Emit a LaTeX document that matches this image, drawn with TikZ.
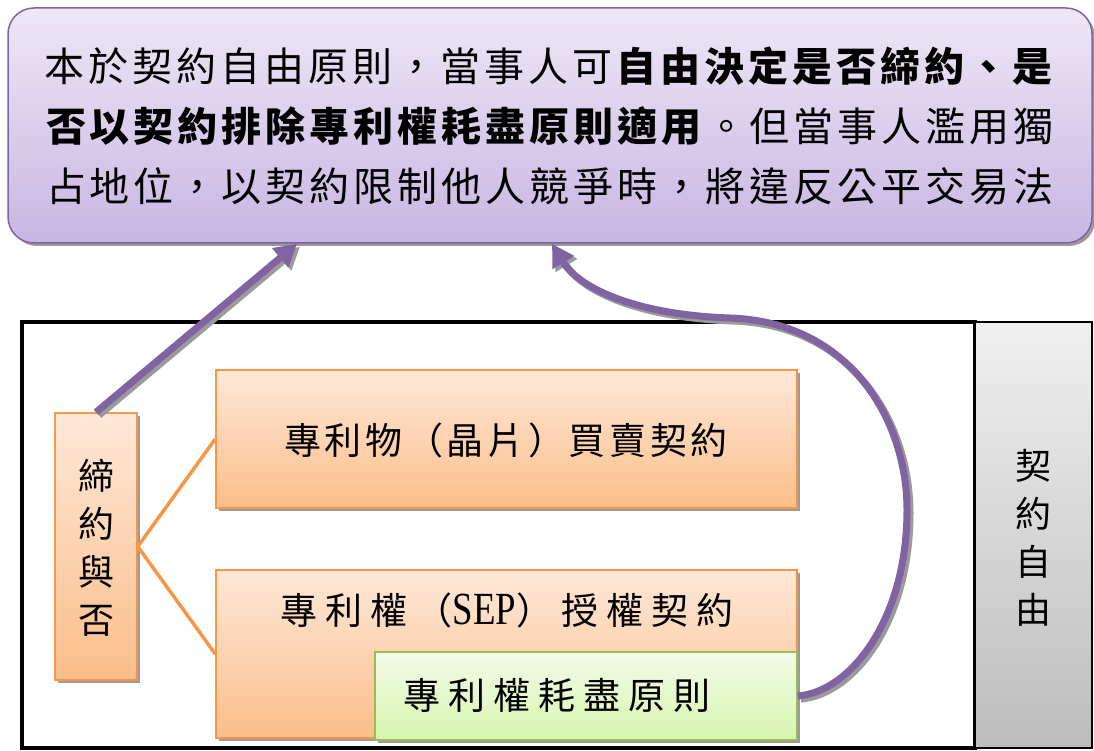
\documentclass[tikz,border=0pt]{standalone}
\usepackage{fontspec}
\setmainfont{Liberation Serif}
\newfontfamily\cjk{Noto Sans CJK TC}
\newfontfamily\cjkwide[LetterSpace=10]{Noto Sans CJK TC}
\newfontfamily\cjksale[LetterSpace=10]{Noto Sans CJK TC}
\newfontfamily\cjklic[LetterSpace=22]{Noto Sans CJK TC}
\newfontfamily\latbox[FakeStretch=0.8]{Liberation Serif}
\usetikzlibrary{arrows.meta, shadows}
\definecolor{purp}{HTML}{8064A2}
\definecolor{purptop}{HTML}{EEE7F6}
\definecolor{purpbot}{HTML}{C8B6E2}
\definecolor{orng}{HTML}{F79646}
\definecolor{orngtop}{HTML}{FEE8D8}
\definecolor{orngbot}{HTML}{FBBE8A}
\definecolor{grn}{HTML}{9BBB59}
\definecolor{grntop}{HTML}{F3FBE8}
\definecolor{grnbot}{HTML}{D6F5AE}
\definecolor{shadowgray}{HTML}{9A9A9A}
\tikzset{
  boxshadow/.style={drop shadow={shadow xshift=3pt, shadow yshift=-3pt, fill=shadowgray, opacity=1}},
  rulebox/.style={draw=purp, line width=1.5pt, rounded corners=26pt, top color=purptop, bottom color=purpbot, boxshadow},
  orangebox/.style={draw=orng, line width=1.5pt, top color=orngtop, bottom color=orngbot, boxshadow},
  greenbox/.style={draw=grn, line width=1.5pt, top color=grntop, bottom color=grnbot, boxshadow},
  greybox/.style={draw=black, line width=2.5pt, top color=black!6, bottom color=black!26},
  branch/.style={orng, line width=3.5pt},
  flow/.style={purp, line width=7pt, -{Triangle[length=22pt, width=24pt]}},
  flowshadow/.style={shadowgray, line width=7pt, -{Triangle[length=22pt, width=24pt]}, transform canvas={xshift=3pt, yshift=-3pt}},
  boxtext/.style={font=#1\fontsize{37}{40}\selectfont, inner sep=0pt},
  vtext/.style={font=\cjk\fontsize{36}{48}\selectfont, align=center, inner sep=0pt}
}
\begin{document}
\begin{tikzpicture}[x=1pt, y=-1pt]
\useasboundingbox (0,0) rectangle (1094,751);
% Top statement
\node[rulebox, minimum width=1084pt, minimum height=235pt, align=center,
      font=\cjkwide\fontsize{40}{60}\selectfont] (rule) at (550,125.5)
  {本於契約自由原則，當事人可\textbf{自由決定是否締約、是}\\
   \textbf{否以契約排除專利權耗盡原則適用}。但當事人濫用獨\\
   占地位，以契約限制他人競爭時，將違反公平交易法};
% Frame and side label
\draw[line width=4pt] (22,322) rectangle (975,748);
\node[greybox, minimum width=117pt, minimum height=426pt] (free) at (1033.5,535) {};
\node[vtext] (freetext) at (1033.5,538) {契\\約\\自\\由};
% Contract boxes
\node[orangebox, minimum width=82pt, minimum height=267pt] (sign) at (96,546.5) {};
\node[vtext] (signtext) at (96,548) {締\\約\\與\\否};
\node[orangebox, minimum width=581pt, minimum height=138pt] (sale) at (506.5,439) {};
\node[boxtext=\cjksale] (saletext) at (506,440) {專利物（晶片）買賣契約};
\node[orangebox, minimum width=581pt, minimum height=168pt] (license) at (506.5,654) {};
\node[boxtext=\cjklic] (lictext) at (507,610) {專利權（{\latbox\fontsize{46}{40}\selectfont SEP}）授權契約};
\node[greenbox, minimum width=422pt, minimum height=88pt] (exhaust) at (586,696) {};
\node[boxtext=\cjklic] (exhtext) at (557,695) {專利權耗盡原則};
% Branches
\draw[branch] (sale.west) -- (sign.east) -- (license.west);
% Arrows to the statement
\foreach \style in {flowshadow, flow}
  \draw[\style] (sign.north) -- (297,0 |- rule.south);
\foreach \style in {flowshadow, flow}
  \draw[\style] (exhaust.east) .. controls (850,692) and (907,620) .. (907,510)
    .. controls (907,420) and (850,322) .. (730,318)
    .. controls (640,315) and (580,290) .. (552,0 |- rule.south);
\end{tikzpicture}
\end{document}
